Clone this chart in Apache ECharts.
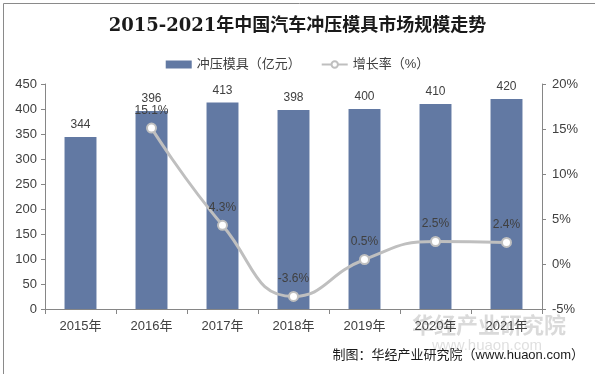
<!DOCTYPE html>
<html><head><meta charset="utf-8">
<script src="https://cdn.jsdelivr.net/npm/echarts@6/dist/echarts.min.js"></script>
<style>html,body{margin:0;padding:0;background:#fff}#c{width:595px;height:374px}</style>
</head><body><div id="c"></div>
<script>
const categories = ['2015年','2016年','2017年','2018年','2019年','2020年','2021年'];
const marketSize = [344, 396, 413, 398, 400, 410, 420];
const growthRate = [null, 15.1, 4.3, -3.6, 0.5, 2.5, 2.4];
const titleText = '2015-2021年中国汽车冲压模具市场规模走势';
const sourceText = '制图：华经产业研究院（www.huaon.com）';
const watermarkText = '华经产业研究院';
const watermarkUrl = 'www.huaon.com';

const chart = echarts.init(document.getElementById('c'), null, {renderer:'canvas'});
const axisGray = '#868686';
const txt = '#404040';
const ff = 'Liberation Sans, Arial, Noto Sans CJK SC, sans-serif';
chart.setOption({
  animation:false,
  backgroundColor:'#fff',
  textStyle:{fontFamily:ff},
  title:{text:titleText,left:'center',top:12,textStyle:{fontSize:18,fontWeight:'bold',color:'#1a1a1a',fontFamily:'DejaVu Serif, Noto Sans CJK SC, serif'}},
  legend:{top:53,left:'center',itemGap:20,itemWidth:26,itemHeight:8,textStyle:{fontSize:13,color:txt},
    data:[{name:'冲压模具（亿元）',icon:'rect'},{name:'增长率（%）'}]},
  grid:{left:45,right:53,top:84,bottom:65},
  xAxis:{type:'category',data:categories,
    axisLine:{lineStyle:{color:axisGray}},
    axisTick:{show:true,alignWithLabel:false,length:5,lineStyle:{color:axisGray}},
    axisLabel:{color:txt,fontSize:13,margin:11}},
  yAxis:[
    {type:'value',min:0,max:450,interval:50,
      axisLine:{show:true,lineStyle:{color:axisGray}},
      axisTick:{show:true,length:4,lineStyle:{color:axisGray}},
      splitLine:{show:false},
      axisLabel:{color:txt,fontSize:13,margin:8}},
    {type:'value',min:-5,max:20,interval:5,
      axisLine:{show:true,lineStyle:{color:axisGray}},
      axisTick:{show:true,length:4,lineStyle:{color:axisGray}},
      splitLine:{show:false},
      axisLabel:{color:txt,fontSize:13,margin:10,formatter:'{value}%'}}
  ],
  series:[
    {name:'冲压模具（亿元）',type:'bar',data:marketSize,barWidth:'45%',
      itemStyle:{color:'#6279A3'},
      label:{show:true,position:'top',color:txt,fontSize:12,distance:6}},
    {name:'增长率（%）',type:'line',yAxisIndex:1,data:growthRate,smooth:0.5,
      connectNulls:false,symbol:'circle',symbolSize:9,
      lineStyle:{color:'#BFBFBF',width:3},
      itemStyle:{color:'#fff',borderColor:'#BFBFBF',borderWidth:2},
      label:{show:true,position:'top',color:txt,fontSize:12,distance:6,formatter:p=>p.value+'%'}}
  ],
  graphic:[
    {type:'rect',left:1,top:1,shape:{width:592,height:371},style:{fill:'none',stroke:'#8a8a8a',lineWidth:1},silent:true},
    {type:'text',left:412,top:314,silent:true,style:{text:watermarkText,fontSize:22,fontWeight:'bold',fill:'rgba(150,150,150,0.35)',fontFamily:'Noto Sans CJK SC, sans-serif'}},
    {type:'text',left:432,top:338,silent:true,style:{text:watermarkUrl,fontSize:15,fill:'rgba(150,150,150,0.3)',fontFamily:ff}},
    {type:'text',right:11,top:349,style:{text:sourceText,fontSize:13,fill:'#1a1a1a',fontFamily:ff}}
  ]
});
</script></body></html>
